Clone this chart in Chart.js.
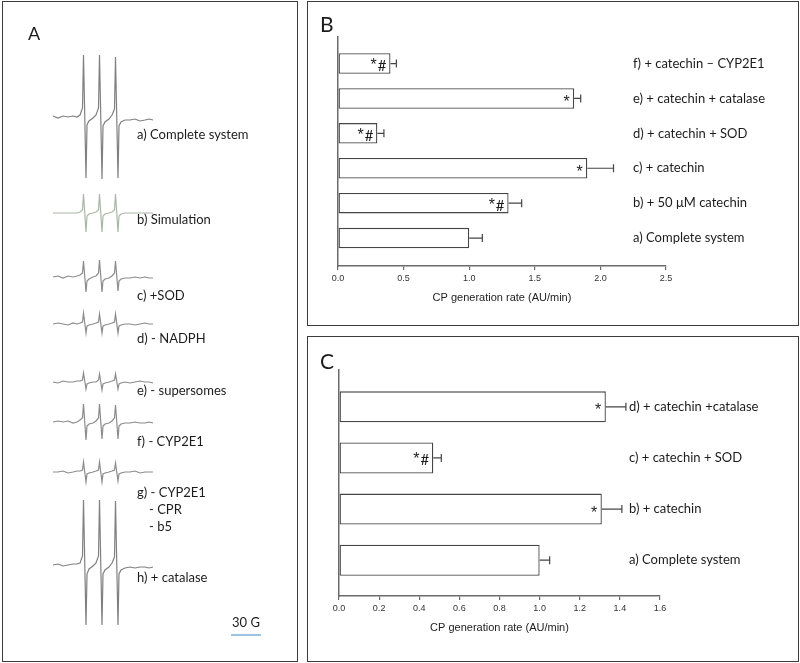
<!DOCTYPE html>
<html>
<head>
<meta charset="utf-8">
<script src="https://cdn.jsdelivr.net/npm/chart.js@4.4.0/dist/chart.umd.min.js"></script>
<style>
  html, body { margin: 0; padding: 0; background: #fff; }
  body { width: 800px; height: 663px; position: relative; overflow: hidden; }
  canvas { position: absolute; }
  .box { position: absolute; border: 1.5px solid #3c3c3c; box-sizing: border-box; }
</style>
</head>
<body>
<div class="box" style="left:2px;top:1px;width:296px;height:661px"></div>
<div class="box" style="left:307px;top:1px;width:492px;height:325px"></div>
<div class="box" style="left:307px;top:336px;width:492px;height:326px"></div>
<canvas id="chartA" width="300" height="663" style="left:0;top:0;width:300px;height:663px"></canvas>
<canvas id="chartB" width="495" height="330" style="left:305px;top:0;width:495px;height:330px"></canvas>
<canvas id="chartC" width="495" height="333" style="left:305px;top:330px;width:495px;height:333px"></canvas>
<script>
// ---- Panel A: EPR spectra (field in G, signal in a.u.) ----
const fieldG = [0, 5, 10, 15, 20, 24, 27, 29.5, 30.5, 33, 34, 36, 40, 43, 45.5, 46.5, 49, 50, 52, 56, 59,
                61.5, 62.5, 65, 66, 68, 72, 77, 82, 87, 92, 96, 100];
const specA = [1, -1, 1, 0, 1, 0, 2, 9, 62, -61, -8, -4, -1, 2, 9, 62, -62, -9, -5, -2, 2, 8, 60, -61, -9, -5, -3, -3, -2, -4, -3, -2, -3];
const specB = [0, 0, 0, 0, 0, 0, 1, 3, 19, -19, -3, -1, 0, 1, 3, 19, -19, -3, -1, 0, 1, 3, 19, -19, -3, -1, 0, 0, 0, 0, 0, 0, 0];
const specC = [0, 1, -1, 1, 0, 1, 2, 4, 16, -15, -4, -2, 0, 1, 4, 17, -15, -4, -2, -1, 1, 4, 16, -14, -4, -2, -1, -1, 0, -1, 0, -1, -1];
const specD = [0, 1, 0, -1, 1, 0, 1, 2, 11, -9, -2, -1, 0, 1, 2, 10, -9, -2, -1, 0, 1, 2, 10, -9, -2, -1, 0, 0, -1, 0, 1, 0, 0];
const specE = [0, -1, 1, 0, 0, 1, 1, 2, 9, -7, -2, -1, 0, 0, 2, 8, -8, -2, -1, 0, 1, 2, 8, -7, -2, -1, 0, -1, 0, 1, 0, 0, -1];
const specF = [0, 1, 0, 1, -1, 0, 2, 4, 18, -18, -4, -2, -1, 1, 4, 18, -17, -4, -2, -1, 1, 4, 17, -17, -4, -2, -1, -1, 0, -1, -1, 0, -1];
const specG = [0, 0, 1, -1, 0, 1, 1, 2, 10, -10, -2, -1, 0, 1, 2, 10, -10, -2, -1, 0, 1, 2, 9, -9, -2, -1, 0, 0, 1, -1, 0, 0, 0];
const specH = [0, 1, -1, 0, 1, 1, 2, 9, 65, -60, -9, -4, -1, 2, 9, 65, -60, -9, -5, -2, 2, 8, 64, -60, -9, -5, -3, -2, -3, -2, -2, -3, -2];
const traceNames = ['a) Complete system', 'b) Simulation', 'c) +SOD', 'd) - NADPH',
                    'e) - supersomes', 'f) - CYP2E1', 'g) - CYP2E1', 'h) + catalase'];
const traceOffsets = [523, 427, 363, 316, 258, 218, 168, 75];
const scaleBarG = 30;

// ---- Panel B ----
const labelsB = ['a) Complete system', 'b) + 50 \u03bcM catechin', 'c) + catechin',
                 'd) + catechin + SOD', 'e) + catechin + catalase', 'f) + catechin \u2013 CYP2E1'];
const valuesB = [1.0, 1.3, 1.9, 0.3, 1.8, 0.4];
const errorsB = [0.10, 0.10, 0.20, 0.05, 0.05, 0.045];
const marksB = ['', '*#', '*', '*#', '*', '*#'];
const ticksB = [0, 0.5, 1.0, 1.5, 2.0, 2.5];

// ---- Panel C ----
const labelsC = ['a) Complete system', 'b) + catechin', 'c) + catechin + SOD', 'd) + catechin +catalase'];
const valuesC = [1.0, 1.31, 0.47, 1.33];
const errorsC = [0.05, 0.10, 0.04, 0.10];
const marksC = ['', '*', '*#', '*'];
const ticksC = [0, 0.2, 0.4, 0.6, 0.8, 1.0, 1.2, 1.4, 1.6];

const textFont = 'Lato, "Open Sans", sans-serif';
const axisFont = '"Liberation Sans", Arial, sans-serif';
const inkColor = '#1c1c1c';

// spectra chart
const specs = [specA, specB, specC, specD, specE, specF, specG, specH];
const traceColors = ['#808080', '#a9b8a6', '#8c8c8c', '#8c8c8c', '#8c8c8c', '#8c8c8c', '#8c8c8c', '#808080'];
const labelDy = [18, 7, 19, 15, 9, 20, 21, 13];

const spectraLabels = {
  id: 'spectraLabels',
  afterDraw(chart) {
    const { ctx, scales: { x, y } } = chart;
    ctx.save();
    ctx.fillStyle = inkColor;
    ctx.font = '18px ' + textFont;
    ctx.textBaseline = 'alphabetic';
    ctx.fillText('A', 28, 40);
    ctx.font = '13px ' + textFont;
    ctx.textBaseline = 'middle';
    const lx = x.getPixelForValue(84);
    traceNames.forEach((name, i) => {
      const ly = y.getPixelForValue(traceOffsets[i]) + labelDy[i];
      ctx.fillText(name, lx, ly);
      if (i === 6) {
        ctx.fillText('- CPR', lx + 12, ly + 16.7);
        ctx.fillText('- b5', lx + 12, ly + 33.4);
      }
    });
    // 30 G scale bar
    const x0 = x.getPixelForValue(178), x1 = x.getPixelForValue(178 + scaleBarG);
    ctx.textAlign = 'center';
    ctx.fillText('30 G', (x0 + x1) / 2, 623);
    ctx.strokeStyle = '#9cc3e5';
    ctx.lineWidth = 2;
    ctx.beginPath();
    ctx.moveTo(x0, 635);
    ctx.lineTo(x1, 635);
    ctx.stroke();
    ctx.restore();
  }
};

new Chart(document.getElementById('chartA'), {
  type: 'line',
  data: {
    datasets: specs.map((s, i) => ({
      label: traceNames[i],
      data: fieldG.map((g, k) => ({ x: g, y: traceOffsets[i] + s[k] })),
      borderColor: traceColors[i],
      borderWidth: 1.2,
      pointRadius: 0,
      tension: 0,
      clip: false
    }))
  },
  options: {
    responsive: false,
    animation: false,
    layout: { padding: { left: 53, right: 147, top: 40, bottom: 23 } },
    scales: {
      x: { type: 'linear', min: 0, max: 100, display: false },
      y: { type: 'linear', min: 0, max: 600, display: false }
    },
    plugins: { legend: { display: false }, tooltip: { enabled: false } }
  },
  plugins: [spectraLabels]
});

// bar panels
const barExtras = {
  id: 'barExtras',
  afterDatasetsDraw(chart) {
    const { ctx, chartArea } = chart;
    const cfg = chart.options.plugins.barExtras;
    const bars = chart.getDatasetMeta(0).data;
    ctx.save();
    // error bars
    ctx.strokeStyle = '#454545';
    ctx.lineWidth = 1.2;
    bars.forEach((bar, i) => {
      const xe = chart.scales.x.getPixelForValue(cfg.values[i] + cfg.errors[i]);
      ctx.beginPath();
      ctx.moveTo(bar.x, bar.y);
      ctx.lineTo(xe, bar.y);
      ctx.moveTo(xe, bar.y - 4);
      ctx.lineTo(xe, bar.y + 4);
      ctx.stroke();
    });
    // significance marks
    ctx.fillStyle = inkColor;
    ctx.textAlign = 'right';
    ctx.textBaseline = 'alphabetic';
    bars.forEach((bar, i) => {
      const m = cfg.marks[i];
      if (!m) return;
      if (m === '*#') {
        ctx.font = '15px ' + textFont;
        ctx.fillText('#', bar.x - 4, bar.y + 7.5);
        const w = ctx.measureText('#').width;
        ctx.font = '16px ' + axisFont;
        ctx.fillText('*', bar.x - 5 - w, bar.y + 6.5);
      } else {
        ctx.font = '16px ' + axisFont;
        ctx.fillText('*', bar.x - 4.5, bar.y + 8.5);
      }
    });
    // category labels
    ctx.textAlign = 'left';
    ctx.textBaseline = 'middle';
    ctx.font = '13px ' + textFont;
    bars.forEach((bar, i) => {
      ctx.fillText(cfg.labels[i], chartArea.right - cfg.labelInset, bar.y);
    });
    // panel letter
    ctx.font = '21px ' + textFont;
    ctx.textBaseline = 'alphabetic';
    ctx.fillText(cfg.letter, 15, cfg.letterY);
    ctx.restore();
  }
};

function makeBarPanel(id, labels, values, errors, marks, ticks, yMin, yMax, pad, barPct, labelInset, letter, letterY) {
  return new Chart(document.getElementById(id), {
    type: 'bar',
    data: {
      datasets: [{
        data: values.map((v, i) => ({ x: v, y: i })),
        backgroundColor: '#ffffff',
        borderColor: '#454545',
        borderWidth: 1.3,
        borderSkipped: false,
        categoryPercentage: 0.9,
        barPercentage: barPct
      }]
    },
    options: {
      responsive: false,
      animation: false,
      indexAxis: 'y',
      layout: { padding: pad },
      scales: {
        x: {
          type: 'linear',
          min: 0,
          max: ticks[ticks.length - 1],
          afterBuildTicks: s => { s.ticks = ticks.map(v => ({ value: v })); },
          afterFit: s => { s.height = 50; },
          grid: { display: true, drawOnChartArea: false, drawTicks: true, tickLength: 4, color: '#6b6b6b', lineWidth: 1.2 },
          border: { display: true, color: '#6b6b6b', width: 1.5 },
          ticks: {
            padding: 3, color: '#333', autoSkip: false, maxRotation: 0,
            font: { family: axisFont, size: 9 },
            callback: v => Number(v).toFixed(1)
          },
          title: {
            display: true, text: 'CP generation rate (AU/min)', color: '#222',
            font: { family: axisFont, size: 11 }, padding: { top: 4, bottom: 11 }
          }
        },
        y: {
          type: 'linear',
          min: yMin,
          max: yMax,
          offset: false,
          // one tick per category so bar thickness follows category spacing
          afterBuildTicks: s => { s.ticks = labels.map((_, i) => ({ value: i })); },
          afterFit: s => { s.width = 0; },
          grid: { display: false, drawTicks: false, offset: false },
          ticks: { display: false },
          border: { display: true, color: '#6b6b6b', width: 1.5 }
        }
      },
      plugins: {
        legend: { display: false },
        tooltip: { enabled: false },
        barExtras: { labels, values, errors, marks, labelInset, letter, letterY }
      }
    },
    plugins: [barExtras]
  });
}

makeBarPanel('chartB', labelsB, valuesB, errorsB, marksB, ticksB, -0.8, 5.76,
  { left: 33, right: 134, top: 37, bottom: 14 }, 0.652, 33, 'B', 32);
makeBarPanel('chartC', labelsC, valuesC, errorsC, marksC, ticksC, -0.7, 3.72,
  { left: 34, right: 140, top: 40, bottom: 17 }, 0.673, 31, 'C', 39);
</script>
</body>
</html>
